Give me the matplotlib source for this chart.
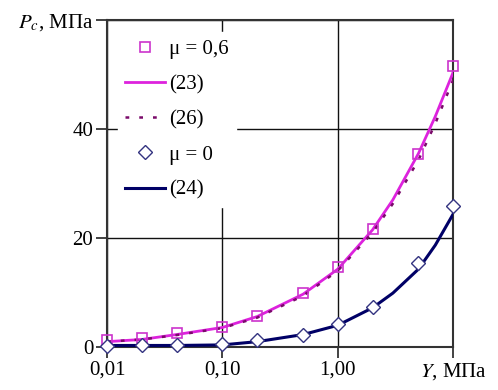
import matplotlib
matplotlib.use("Agg")
import matplotlib.pyplot as plt
from matplotlib.lines import Line2D

plt.rcParams['font.family'] = ['Liberation Serif', 'DejaVu Serif']
plt.rcParams['mathtext.fontset'] = 'stix'

# Data (Y in MPa, Pc in MPa)
x_pts = [0.01, 0.02, 0.04, 0.1, 0.2, 0.5, 1, 2, 5, 10]
mu06_pts = [1.3, 1.7, 2.6, 3.7, 5.7, 10.0, 14.6, 21.7, 35.5, 51.5]
mu0_pts = [0.2, 0.3, 0.3, 0.5, 1.3, 2.2, 4.3, 7.4, 15.4, 25.9]

x_line = [0.01, 0.02, 0.04, 0.1, 0.2, 0.5, 1, 2, 3, 5, 7, 10]
eq23 = [1.0, 1.4, 2.3, 3.6, 5.6, 9.7, 14.3, 21.5, 27.0, 35.5, 42.3, 50.4]
eq26 = [1.0, 1.4, 2.2, 3.5, 5.4, 9.4, 14.0, 21.0, 26.3, 34.3, 41.0, 49.0]
eq24 = [0.3, 0.3, 0.3, 0.4, 1.0, 2.3, 4.0, 7.2, 9.9, 14.3, 18.7, 24.4]

x_ticks = [0.01, 0.1, 1, 10]
x_ticklabels = ['0,01', '0,10', '1,00', '$Y$, МПа']
y_ticks = [0, 20, 40, 60]
y_ticklabels = ['0', '20', '40', '$P_c$, МПа']

c_mag = '#DD22DD'
c_sq = '#CC33CC'
c_26 = '#7A0A6A'
c_navy = '#000066'
c_dia = '#333380'

FS = 15

fig = plt.figure(figsize=(4.98, 3.90), dpi=100)
ax = fig.add_axes([0.215, 0.110, 0.695, 0.839])

ax.set_xscale('log')
ax.set_xlim(0.01, 10)
ax.set_ylim(0, 60)

ax.plot(x_line, eq23, color=c_mag, lw=2.0, zorder=3)
ax.plot(x_line, eq26, color=c_26, lw=1.8, ls=(0, (1.5, 4)), zorder=4)
ax.plot(x_line, eq24, color=c_navy, lw=2.2, zorder=3)
ax.plot(x_pts, mu06_pts, ls='none', marker='s', ms=7.5, mfc='none', mec=c_sq, mew=1.2, zorder=5, clip_on=False)
ax.plot(x_pts, mu0_pts, ls='none', marker='D', ms=6.8, mfc='white', mec=c_dia, mew=1.0, zorder=5, clip_on=False)

ax.set_xticks(x_ticks)
ax.set_xticklabels(x_ticklabels)
ax.minorticks_off()
ax.set_yticks(y_ticks)
ax.set_yticklabels(y_ticklabels)
ax.tick_params(axis='both', direction='out', length=8, width=1.2, color='#222222', labelsize=FS, pad=2)
ax.grid(True, color='#111111', lw=1.0)
for s in ax.spines.values():
    s.set_color('#333333')
    s.set_linewidth(1.5)

handles = [
    Line2D([], [], ls='none', marker='s', ms=7.5, mfc='none', mec=c_sq, mew=1.2),
    Line2D([], [], color=c_mag, lw=2.0),
    Line2D([], [], color=c_26, lw=1.8, ls=(0, (1.5, 4))),
    Line2D([], [], ls='none', marker='D', ms=6.8, mfc='white', mec=c_dia, mew=1.0),
    Line2D([], [], color=c_navy, lw=2.2),
]
labels = ['μ = 0,6', '(23)', '(26)', 'μ = 0', '(24)']
leg = ax.legend(handles, labels, loc='upper left', bbox_to_anchor=(0.02, 0.975),
                frameon=True, fontsize=FS, handlelength=1.9, handletextpad=0.2,
                labelspacing=0.75, borderpad=0.35, borderaxespad=0.2, fancybox=False)
leg.get_frame().set_edgecolor('white')
leg.get_frame().set_facecolor('white')
leg.get_frame().set_alpha(1.0)

fig.savefig('out.png', dpi=100)
